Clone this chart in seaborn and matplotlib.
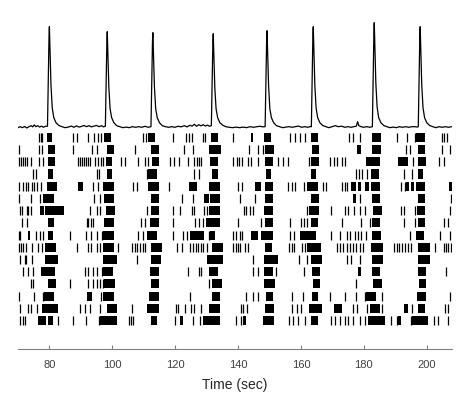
import numpy as np
import pandas as pd
import matplotlib
matplotlib.use("Agg")
import matplotlib.pyplot as plt
import seaborn as sns

# ---------------- data ----------------
trace_time = [
    70.0, 70.7, 71.4, 72.1, 72.8, 73.5, 74.2, 74.7, 75.2, 75.7, 76.3, 76.9, 77.5, 78.1, 78.7,
    79.4, 79.65, 79.88, 80.0, 80.2, 80.5, 80.9, 81.4, 82.1, 83.0, 84.0,
    85.0, 86.0, 87.0, 87.8, 88.6, 89.4, 90.2, 91.0, 91.8, 92.6, 93.4, 94.2, 95.0, 95.8, 96.6, 97.2,
    97.8, 98.05, 98.28, 98.4, 98.6, 98.9, 99.3, 99.8, 100.5, 101.4, 102.4,
    103.4, 104.4, 105.4, 106.4, 107.4, 108.4, 109.4, 110.4, 111.4,
    112.3, 112.55, 112.78, 112.9, 113.1, 113.4, 113.8, 114.3, 115.0, 115.9, 116.9,
    117.9, 118.9, 119.9, 120.9, 121.9, 122.9, 123.8, 124.6, 125.4, 126.1, 126.8, 127.5, 128.2,
    128.9, 129.6, 130.3, 130.9,
    131.5, 131.75, 131.98, 132.1, 132.3, 132.6, 133.0, 133.5, 134.2, 135.1, 136.1,
    137.2, 138.3, 139.4, 140.5, 141.6, 142.7, 143.8, 144.9, 146.0, 147.0, 147.9,
    148.6, 148.85, 149.08, 149.2, 149.4, 149.7, 150.1, 150.6, 151.3, 152.2, 153.2,
    154.2, 155.2, 156.2, 157.2, 158.2, 159.2, 160.2, 161.2, 162.2, 162.8,
    163.3, 163.55, 163.78, 163.9, 164.1, 164.4, 164.8, 165.3, 166.0, 166.9, 167.9,
    168.9, 169.9, 170.9, 171.9, 172.9, 173.9, 174.9, 175.9, 176.9, 177.6, 178.0, 178.4,
    179.1, 179.9, 180.9, 181.9,
    182.7, 182.95, 183.18, 183.3, 183.5, 183.8, 184.2, 184.7, 185.4, 186.3, 187.3,
    188.3, 189.3, 190.3, 191.3, 192.3, 193.3, 194.3, 195.3, 196.3, 196.9,
    197.3, 197.55, 197.78, 197.9, 198.1, 198.4, 198.8, 199.3, 200.0, 200.9, 201.9,
    202.9, 203.9, 204.9, 205.9, 206.9, 207.9,
]
trace_value = [
    0.0, 0.01, 0.0, 0.012, -0.003, 0.01, 0.02, 0.008, 0.028, 0.01, 0.02, 0.006, 0.016, 0.004, 0.014,
    0.015, 0.5, 0.91, 1.01, 0.78, 0.43, 0.2, 0.1, 0.05, 0.022, 0.01,
    0.0, 0.006, 0.016, 0.004, 0.018, 0.006, 0.012, 0.022, 0.01, 0.02, 0.008, 0.016, 0.022, 0.01, 0.02, 0.008,
    0.015, 0.48, 0.86, 0.96, 0.74, 0.41, 0.19, 0.1, 0.05, 0.02, 0.01,
    0.0, 0.006, 0.0, 0.01, 0.004, 0.01, 0.004, 0.014, 0.004,
    0.01, 0.48, 0.86, 0.95, 0.73, 0.41, 0.19, 0.1, 0.05, 0.02, 0.01,
    0.004, 0.01, 0.004, 0.014, 0.008, 0.02, 0.008, 0.024, 0.016, 0.034, 0.014, 0.03, 0.018,
    0.03, 0.016, 0.026, 0.014,
    0.02, 0.47, 0.85, 0.94, 0.72, 0.4, 0.19, 0.1, 0.05, 0.025, 0.01,
    0.004, 0.0, 0.006, 0.0, 0.006, 0.0, 0.01, 0.004, 0.01, 0.014, 0.008,
    0.01, 0.49, 0.87, 0.97, 0.75, 0.42, 0.19, 0.1, 0.05, 0.02, 0.01,
    0.0, 0.006, 0.01, 0.004, 0.01, 0.016, 0.004, 0.01, 0.004, 0.01,
    0.01, 0.5, 0.91, 1.01, 0.78, 0.43, 0.2, 0.1, 0.05, 0.022, 0.01,
    0.0, 0.01, 0.02, 0.01, 0.015, 0.004, 0.01, 0.004, 0.01, 0.015, 0.06, 0.02,
    0.01, 0.004, 0.01, 0.004,
    0.01, 0.52, 0.94, 1.05, 0.81, 0.45, 0.21, 0.1, 0.05, 0.022, 0.01,
    0.0, 0.006, 0.0, 0.01, 0.004, 0.01, 0.004, 0.01, 0.01, 0.006,
    0.01, 0.5, 0.91, 1.01, 0.78, 0.43, 0.2, 0.1, 0.05, 0.022, 0.01,
    0.0, 0.01, 0.004, 0.01, 0.004, 0.01,
]

# single spikes per cell (rows top to bottom)
spike_times = [
    [76.7, 77.3, 77.8, 87.4, 88.7, 92.2, 94.3, 95.4, 96.3, 109.9, 110.6, 119.4, 123.4, 124.3, 125.3,
     128.8, 129.5, 138.4, 156.6, 158.0, 159.6, 161.2, 175.2, 176.6, 178.7, 190.4, 193.8, 196.2,
     204.7, 205.5, 206.4],
    [70.2, 76.8, 77.7, 87.6, 93.7, 95.2, 107.2, 122.7, 125.6, 143.4, 146.4, 147.8, 193.5, 194.6,
     204.7, 207.5],
    [70.2, 70.9, 71.5, 72.3, 73.0, 74.1, 76.8, 77.9, 89.2, 89.8, 90.5, 91.1, 91.7, 92.4, 92.9, 94.5,
     95.6, 96.4, 97.2, 102.7, 104.1, 108.1, 110.4, 111.2, 118.2, 119.7, 121.2, 124.2, 126.1, 126.9,
     127.6, 128.3, 138.4, 139.5, 140.3, 141.3, 143.0, 144.0, 146.2, 152.7, 154.3, 155.9, 162.6,
     169.2, 170.5, 171.6, 172.9, 174.1, 195.6, 203.8, 205.5],
    [74.9, 75.6, 95.1, 95.7, 110.9, 126.1, 127.5, 177.6, 178.5, 179.4, 181.1, 192.7, 195.4],
    [70.4, 71.7, 72.6, 73.3, 74.4, 75.2, 76.0, 77.4, 93.8, 95.4, 106.7, 108.0, 118.1, 140.0, 141.3,
     155.9, 157.2, 158.0, 161.0, 167.0, 168.1, 172.9, 173.9, 174.7, 191.7, 193.0],
    [70.2, 74.1, 77.0, 94.3, 96.1, 122.1, 125.6, 140.5, 145.3, 178.7, 207.8],
    [70.5, 71.2, 72.8, 73.3, 74.1, 93.0, 95.1, 96.0, 110.9, 119.2, 121.6, 125.3, 126.1, 129.2, 130.0,
     141.8, 142.6, 143.7, 144.8, 161.9, 169.7, 173.9, 175.0, 176.8, 178.7, 180.3, 191.9, 192.8,
     196.2, 207.3],
    [71.2, 73.0, 91.9, 92.4, 93.2, 93.8, 109.1, 110.4, 119.2, 126.3, 127.6, 129.0, 140.0, 147.4,
     156.6, 160.1, 161.0, 162.0, 172.9, 179.2, 181.9, 192.8, 196.4, 205.4, 206.8],
    [70.2, 70.7, 75.8, 77.0, 77.9, 86.4, 91.7, 93.3, 95.0, 96.7, 108.3, 109.9, 119.2, 122.6, 123.7,
     130.6, 138.4, 139.3, 140.5, 141.3, 156.4, 157.8, 169.7, 172.5, 174.5, 175.5, 177.1, 178.2,
     179.2, 180.8, 194.6, 204.3, 207.3],
    [70.2, 70.9, 71.7, 72.6, 74.4, 76.5, 77.6, 88.7, 92.4, 93.2, 95.1, 96.1, 101.7, 106.2, 107.2,
     108.0, 108.8, 109.7, 110.4, 120.5, 122.2, 124.7, 125.6, 126.6, 127.2, 128.3, 129.0, 130.0,
     138.4, 139.2, 140.0, 140.7, 142.1, 143.2, 156.2, 157.0, 157.7, 160.4, 161.2, 171.3, 172.3,
     173.4, 174.5, 175.5, 176.6, 177.6, 178.7, 179.8, 189.6, 190.4, 191.3, 192.2, 193.0, 194.0,
     195.1, 202.5, 205.5, 206.2, 206.8, 207.6],
    [70.5, 72.1, 72.6, 74.4, 107.8, 144.8, 159.3, 162.0, 174.5, 176.0, 178.7],
    [71.5, 73.2, 74.9, 91.4, 92.4, 94.0, 95.1, 96.7, 124.2, 127.6, 128.3, 144.8, 146.2, 152.2,
     161.0, 206.2],
    [74.1, 74.9, 86.4, 92.2, 94.0, 95.1, 96.1, 96.9, 130.9, 177.6],
    [70.2, 75.2, 77.9, 96.3, 124.7, 142.4, 144.8, 146.2, 157.2, 160.7, 169.2, 174.1, 177.6, 180.3,
     185.8, 207.3],
    [70.5, 73.3, 74.2, 76.0, 89.8, 91.4, 92.9, 96.1, 106.4, 120.3, 121.0, 123.1, 124.9, 126.0, 128.2,
     140.9, 141.6, 142.7, 157.3, 158.6, 160.1, 176.6, 177.9, 181.1, 185.9, 195.4, 205.7, 206.8],
    [70.7, 71.5, 72.3, 82.6, 87.4, 91.7, 95.8, 105.4, 106.0, 106.7, 119.9, 125.6, 127.9, 139.2,
     140.9, 156.2, 157.5, 158.9, 161.2, 169.7, 170.7, 172.3, 173.9, 175.0, 176.6, 178.7, 180.3,
     188.5, 190.4, 195.1, 202.2, 203.6, 206.8],
]

# dense spike bursts (start, end) per cell
burst_windows = [
    [(79.2, 80.9), (97.5, 99.5), (111.5, 113.7), (131.4, 133.7), (144.2, 144.8), (148.3, 150.4),
     (163.3, 165.4), (182.7, 185.6), (196.7, 199.4)],
    [(79.5, 81.8), (98.2, 100.4), (112.3, 114.9), (130.6, 134.5), (148.7, 151.5), (163.5, 165.7),
     (177.9, 179.2), (182.7, 185.6), (197.2, 199.4)],
    [(79.5, 81.8), (98.0, 99.8), (112.5, 114.7), (131.1, 133.7), (148.7, 151.1), (163.3, 165.7),
     (180.8, 185.0), (190.9, 194.1), (197.2, 199.6)],
    [(79.7, 81.1), (98.2, 99.8), (111.2, 114.1), (131.8, 133.7), (149.0, 150.4), (163.3, 164.9),
     (182.2, 184.7), (197.2, 198.9)],
    [(79.2, 82.3), (89.2, 90.6), (97.2, 100.6), (111.5, 115.0), (124.4, 126.9), (130.6, 134.3),
     (145.3, 147.4), (148.7, 151.1), (161.9, 165.4), (176.0, 177.5), (178.0, 179.2), (180.3, 181.5),
     (182.2, 185.0), (193.5, 194.5), (195.0, 195.8), (196.5, 199.4), (207.1, 207.9)],
    [(77.9, 81.5), (97.4, 100.7), (112.3, 114.9), (129.3, 130.6), (131.0, 134.3), (148.7, 151.1),
     (163.3, 165.7), (176.6, 177.6), (182.7, 185.0), (197.2, 199.4)],
    [(77.0, 78.2), (78.6, 84.5), (98.0, 100.9), (112.2, 114.9), (130.6, 134.3), (148.3, 151.1),
     (162.6, 165.7), (182.9, 185.8), (197.0, 199.4)],
    [(79.7, 81.6), (97.5, 100.4), (112.0, 114.7), (129.7, 134.3), (148.7, 151.1), (163.3, 165.4),
     (182.6, 185.0), (197.2, 199.4)],
    [(73.1, 73.8), (79.5, 81.3), (97.2, 100.4), (111.0, 114.1), (124.7, 129.2), (131.1, 132.7),
     (144.2, 146.4), (147.4, 151.1), (159.8, 164.9), (182.7, 185.4), (196.5, 199.1)],
    [(78.6, 82.1), (97.2, 100.4), (112.2, 115.7), (131.6, 135.1), (148.7, 150.9), (161.9, 166.3),
     (182.2, 186.1), (197.2, 200.9)],
    [(78.6, 82.6), (97.2, 101.4), (112.3, 115.5), (130.0, 135.1), (148.3, 152.7), (163.3, 166.7),
     (182.7, 186.1), (197.2, 200.9)],
    [(77.2, 81.8), (97.2, 100.1), (112.0, 115.0), (130.6, 133.7), (148.3, 151.1), (163.5, 166.0),
     (178.2, 179.2), (182.7, 185.0), (197.2, 199.6)],
    [(79.5, 82.1), (97.4, 100.9), (112.3, 115.0), (131.6, 134.8), (148.3, 151.7), (163.9, 166.0),
     (182.9, 185.8), (197.4, 199.9)],
    [(78.4, 81.6), (92.0, 93.5), (97.0, 100.4), (111.8, 114.7), (131.8, 134.3), (149.0, 151.1),
     (163.6, 165.4), (180.8, 184.0), (196.9, 199.9)],
    [(77.6, 82.6), (98.2, 101.4), (111.0, 115.0), (130.8, 134.3), (148.5, 151.5), (162.6, 166.7),
     (170.5, 172.9), (181.9, 185.0), (192.8, 194.1), (197.2, 199.4)],
    [(76.5, 78.8), (79.5, 81.3), (96.1, 101.4), (112.2, 114.1), (121.6, 122.6), (128.8, 134.3),
     (141.6, 142.6), (147.9, 151.5), (163.3, 165.4), (181.3, 186.6), (190.9, 191.9), (195.4, 200.4)],
]

x_ticks = [80, 100, 120, 140, 160, 180, 200]
x_label = "Time (sec)"

# ---------------- styling / layout ----------------
sns.set_theme(style="white")
plt.rcParams["font.family"] = ["Liberation Sans", "DejaVu Sans"]

fig = plt.figure(figsize=(4.68, 3.95), dpi=100)
ax = fig.add_axes([0.039, 0.1165, 0.926, 0.8455])

TRACE_BASE = -0.21
TRACE_SCALE = 8.18
ROW_H = 0.74

trace_df = pd.DataFrame({
    "time": trace_time,
    "level": np.asarray(trace_value) * TRACE_SCALE + TRACE_BASE,
})
sns.lineplot(data=trace_df, x="time", y="level", ax=ax, color="black",
             linewidth=0.9, estimator=None, sort=False)

for i, (spikes, bursts) in enumerate(zip(spike_times, burst_windows)):
    yc = -(i + 1)
    ax.vlines(spikes, yc - ROW_H / 2, yc + ROW_H / 2, color="black", linewidth=0.9)
    ax.broken_barh([(a, b - a) for a, b in bursts], (yc - ROW_H / 2, ROW_H),
                   facecolors="black", edgecolor="none")

ax.set_xlim(70.1, 207.9)
ax.set_ylim(-18.32, 9.01)
ax.set_yticks([])
ax.set_xticks(x_ticks)
ax.set_xticklabels([str(t) for t in x_ticks])
ax.set_xlabel(x_label, fontsize=10, color="#262626", labelpad=5.5)
ax.set_ylabel("")
for side in ("left", "right", "top"):
    ax.spines[side].set_visible(False)
ax.spines["bottom"].set_color("#808080")
ax.spines["bottom"].set_linewidth(0.8)
ax.tick_params(axis="x", direction="in", length=3, width=0.8, color="#808080",
               labelsize=8, labelcolor="#404040", pad=8, bottom=True)
ax.set_facecolor("white")
fig.patch.set_facecolor("white")

fig.savefig("out.png", dpi=100, facecolor="white")
